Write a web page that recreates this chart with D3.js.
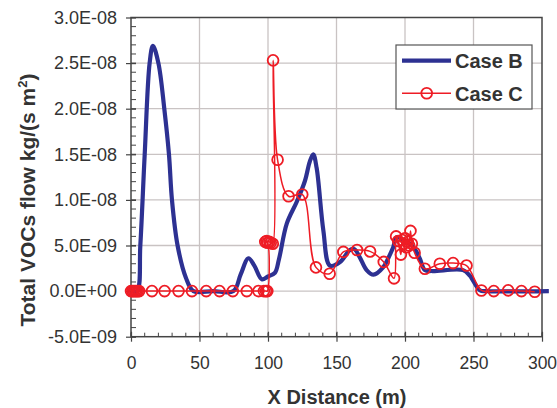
<!DOCTYPE html>
<html>
<head>
<meta charset="utf-8">
<script src="https://cdn.jsdelivr.net/npm/d3@7"></script>
<style>
  body { margin: 0; background: #fff; }
  text { font-family: "Liberation Sans", Arial, sans-serif; fill: #333; }
</style>
</head>
<body>
<script>
// tick values
var xTicks = [0, 50, 100, 150, 200, 250, 300];
var yTicks = [-5e-9, 0, 5e-9, 1e-8, 1.5e-8, 2e-8, 2.5e-8, 3e-8];
var yTickLabels = ["-5.0E-09", "0.0E+00", "5.0E-09", "1.0E-08", "1.5E-08", "2.0E-08", "2.5E-08", "3.0E-08"];

// Case B (values in 1e-9 kg/(s m2))
var caseBx = [0, 4.4, 6.8, 10, 13.6, 16, 20, 24.3, 27.7, 29.9, 34, 40, 45.6, 60, 74.8, 80, 85.7, 90, 95.5, 100, 105, 108, 113.7, 121, 127, 130.5, 133, 135.5, 140.4, 145.2, 152.6, 159.8, 163, 167, 172, 177, 184, 189, 191.4, 194, 200, 205, 208.4, 211, 214.5, 220, 242.4, 247.3, 254.6, 260, 305];
var caseBy = [0, 0, 5, 15, 25, 26.9, 25, 20, 15, 10, 5, 1.5, 0, 0, 0, 1.8, 3.6, 2.8, 1.3, 1.6, 2.0, 3.5, 7.4, 9.8, 12.1, 14.2, 15.0, 13.5, 6.65, 2.8, 3.2, 4.5, 4.6, 3.7, 2.3, 1.8, 2.6, 4.0, 4.8, 5.9, 5.5, 5.0, 4.3, 3.5, 2.3, 2.2, 2.3, 1.7, 0.1, 0, 0];

// Case C
var caseCx = [0, 1, 2, 3, 4, 5, 6, 15.3, 24.5, 34.7, 44.5, 54.9, 64.6, 74.3, 84.5, 93, 97, 98.5, 99.5, 99.6, 98, 99, 101, 102, 103.5, 103.7, 107, 115, 125, 135, 145, 155, 165, 174.5, 184.5, 192, 193.5, 195, 197, 198, 199, 200, 201, 202, 203, 204, 205, 207, 214.5, 225.4, 235.1, 244.9, 255.8, 264.8, 275.3, 285, 294.7];
var caseCy = [0, 0, 0, 0, 0, 0, 0, 0, 0, 0, 0, 0, 0, 0, 0, 0, 0, 0, 0, 5.3, 5.4, 5.5, 5.4, 5.3, 5.2, 25.3, 14.4, 10.4, 10.6, 2.6, 1.9, 4.3, 4.5, 4.35, 3.2, 1.4, 6.0, 5.5, 4.0, 5.6, 5.2, 5.8, 4.8, 5.4, 5.0, 6.6, 5.2, 4.2, 2.45, 3.0, 3.07, 2.8, 0.07, 0, 0.08, 0, -0.07];

var width = 557, height = 408;
var plotLeft = 131, plotRight = 542, plotTop = 17.5, plotBottom = 336.7;

var svg = d3.select("body").append("svg")
  .attr("width", width)
  .attr("height", height);

var x = d3.scaleLinear().domain([0, 300]).range([plotLeft, plotRight]);
var y = d3.scaleLinear().domain([-5e-9, 3e-8]).range([plotBottom, plotTop]);

// grid lines
svg.append("g").selectAll("line")
  .data(yTicks.slice(1, -1))
  .enter().append("line")
  .attr("x1", plotLeft).attr("x2", plotRight)
  .attr("y1", function(d) { return y(d); })
  .attr("y2", function(d) { return y(d); })
  .attr("stroke", "#c9c3c3").attr("stroke-width", 1.3);

svg.append("g").selectAll("line")
  .data(xTicks.slice(1, -1))
  .enter().append("line")
  .attr("y1", plotTop).attr("y2", plotBottom)
  .attr("x1", function(d) { return x(d); })
  .attr("x2", function(d) { return x(d); })
  .attr("stroke", "#c9c3c3").attr("stroke-width", 1.3);

// plot box
svg.append("rect")
  .attr("x", plotLeft).attr("y", plotTop)
  .attr("width", plotRight - plotLeft).attr("height", plotBottom - plotTop)
  .attr("fill", "none").attr("stroke", "#444").attr("stroke-width", 1.5);

// minor ticks
var yMinor = d3.range(-5, 31, 1).map(function(v) { return v * 1e-9; });
svg.append("g").selectAll("line")
  .data(yMinor)
  .enter().append("line")
  .attr("x1", plotLeft).attr("x2", plotLeft + 5)
  .attr("y1", function(d) { return y(d); })
  .attr("y2", function(d) { return y(d); })
  .attr("stroke", "#444").attr("stroke-width", 1);

svg.append("g").selectAll("line")
  .data(d3.range(0, 301, 10))
  .enter().append("line")
  .attr("y1", plotBottom).attr("y2", plotBottom - 4)
  .attr("x1", function(d) { return x(d); })
  .attr("x2", function(d) { return x(d); })
  .attr("stroke", "#444").attr("stroke-width", 1);

// y axis
var yAxis = svg.append("g")
  .attr("transform", "translate(" + (plotLeft + 5) + ",0)")
  .call(d3.axisLeft(y).tickValues(yTicks).tickSize(10).tickPadding(9)
    .tickFormat(function(d, i) { return yTickLabels[i]; }));
yAxis.select(".domain").remove();
yAxis.selectAll(".tick line").attr("stroke", "#444").attr("stroke-width", 1.2);
yAxis.selectAll("text").style("font-size", "18px").attr("fill", "#333")
  .style("font-family", "'Liberation Sans', Arial, sans-serif");

// x axis
var xAxis = svg.append("g")
  .attr("transform", "translate(0," + (plotBottom - 5) + ")")
  .call(d3.axisBottom(x).tickValues(xTicks).tickSize(10).tickPadding(15));
xAxis.select(".domain").remove();
xAxis.selectAll(".tick line").attr("stroke", "#444").attr("stroke-width", 1.2);
xAxis.selectAll("text").style("font-size", "17.5px").attr("fill", "#333")
  .style("font-family", "'Liberation Sans', Arial, sans-serif");

// axis titles
svg.append("text")
  .attr("x", 337).attr("y", 404)
  .attr("text-anchor", "middle")
  .style("font-size", "20px").style("font-weight", "bold")
  .text("X Distance (m)");

var yTitle = svg.append("text")
  .attr("transform", "translate(35,200) rotate(-90)")
  .attr("text-anchor", "middle")
  .style("font-size", "21px").style("font-weight", "bold");
yTitle.append("tspan").text("Total VOCs flow kg/(s m");
yTitle.append("tspan").attr("dy", -8).style("font-size", "13px").text("2");
yTitle.append("tspan").attr("dy", 8).text(")");

// data
var dataB = caseBx.map(function(v, i) { return [v, caseBy[i] * 1e-9]; });
var dataC = caseCx.map(function(v, i) { return [v, caseCy[i] * 1e-9]; });

var line = d3.line()
  .x(function(d) { return x(d[0]); })
  .y(function(d) { return y(d[1]); })
  .curve(d3.curveCatmullRom.alpha(0.5));

svg.append("path")
  .datum(dataB)
  .attr("d", line)
  .attr("fill", "none")
  .attr("stroke", "#2d3192")
  .attr("stroke-width", 4.2)
  .attr("stroke-linejoin", "round");

svg.append("path")
  .datum(dataC)
  .attr("d", line)
  .attr("fill", "none")
  .attr("stroke", "#ee1c25")
  .attr("stroke-width", 1.5);

svg.append("g").selectAll("circle")
  .data(dataC)
  .enter().append("circle")
  .attr("cx", function(d) { return x(d[0]); })
  .attr("cy", function(d) { return y(d[1]); })
  .attr("r", 5.4)
  .attr("fill", "none")
  .attr("stroke", "#ee1c25")
  .attr("stroke-width", 1.8);

// legend
var legend = svg.append("g");
legend.append("rect")
  .attr("x", 396).attr("y", 45)
  .attr("width", 136).attr("height", 64)
  .attr("fill", "#fff").attr("stroke", "#555").attr("stroke-width", 1.2);
legend.append("line")
  .attr("x1", 402).attr("x2", 451).attr("y1", 60.7).attr("y2", 60.7)
  .attr("stroke", "#2d3192").attr("stroke-width", 4.2);
legend.append("line")
  .attr("x1", 402).attr("x2", 451).attr("y1", 93.3).attr("y2", 93.3)
  .attr("stroke", "#ee1c25").attr("stroke-width", 1.5);
legend.append("circle")
  .attr("cx", 426.7).attr("cy", 93.3).attr("r", 5.4)
  .attr("fill", "none").attr("stroke", "#ee1c25").attr("stroke-width", 1.8);
legend.append("text")
  .attr("x", 455).attr("y", 68)
  .style("font-size", "20px").style("font-weight", "bold")
  .text("Case B");
legend.append("text")
  .attr("x", 455).attr("y", 100.5)
  .style("font-size", "20px").style("font-weight", "bold")
  .text("Case C");
</script>
</body>
</html>
